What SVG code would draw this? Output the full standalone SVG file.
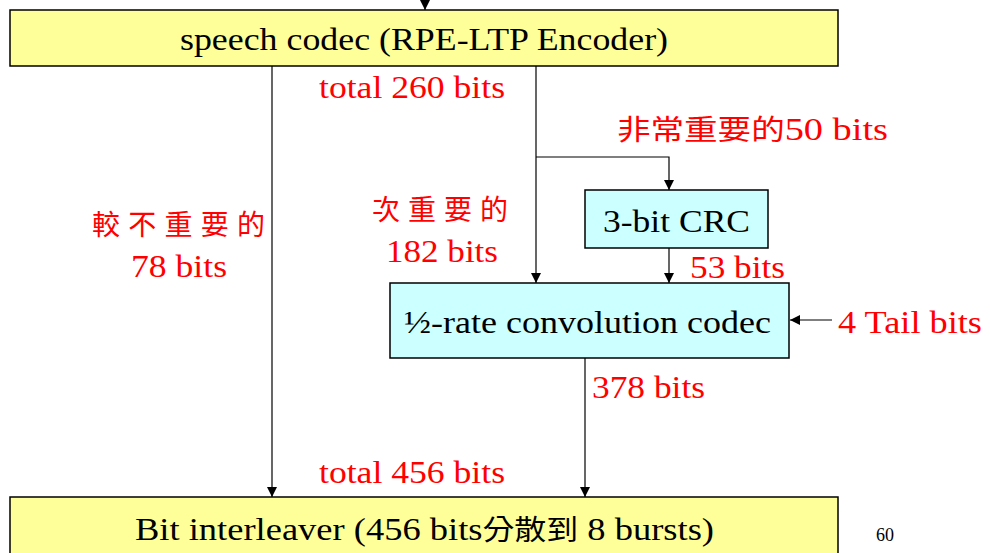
<svg xmlns="http://www.w3.org/2000/svg" width="990" height="553" viewBox="0 0 990 553">
<style>
.box{stroke:#000;stroke-width:1.5}
.y{fill:#FFFF99}
.c{fill:#CCFFFF}
.t{font-family:"Liberation Serif","Times New Roman","DejaVu Serif",serif;fill:#000}
.r{font-family:"Liberation Serif","Times New Roman","DejaVu Serif",serif;fill:#FF0000}
.cjk{font-family:"Noto Sans CJK TC","Noto Sans CJK SC",sans-serif}
.ln{stroke:#000;stroke-width:1.2;fill:none;marker-end:url(#ah)}
</style>
<defs>
<marker id="ah" viewBox="0 0 10 10" refX="10" refY="5" markerWidth="10" markerHeight="10" markerUnits="userSpaceOnUse" orient="auto">
<path d="M0,0 L10,5 L0,10 z" fill="#000"/>
</marker>
</defs>
<g id="connectors">
<path class="ln" d="M425,0 V10"/>
<path class="ln" d="M272,66 V497"/>
<path class="ln" d="M536,66 V283"/>
<path class="ln" d="M536,157 H669 V190"/>
<path class="ln" d="M669,248 V283"/>
<path class="ln" d="M585,358 V497"/>
<path class="ln" d="M832,320 H790"/>
</g>
<g id="speech-codec">
<rect class="box y" x="10" y="10" width="828" height="56"/>
<text class="t" x="180" y="50" font-size="32" textLength="488" lengthAdjust="spacingAndGlyphs">speech codec (RPE-LTP Encoder)</text>
</g>
<g id="crc">
<rect class="box c" x="585" y="190" width="183" height="58"/>
<text class="t" x="603" y="232" font-size="32" textLength="147" lengthAdjust="spacingAndGlyphs">3-bit CRC</text>
</g>
<g id="convolution">
<rect class="box c" x="390" y="283" width="399" height="75"/>
<text class="t" x="404" y="333" font-size="32" textLength="367" lengthAdjust="spacingAndGlyphs">½-rate convolution codec</text>
</g>
<g id="interleaver">
<rect class="box y" x="10" y="497" width="828" height="70"/>
<text class="t" x="135" y="540" font-size="32" textLength="579" lengthAdjust="spacingAndGlyphs">Bit interleaver (456 bits<tspan class="cjk" font-size="28">分散到</tspan> 8 bursts)</text>
</g>
<g id="labels">
<text class="r" x="319" y="98" font-size="32" textLength="186" lengthAdjust="spacingAndGlyphs">total 260 bits</text>
<text class="r" x="617" y="140" font-size="32" textLength="271" lengthAdjust="spacingAndGlyphs"><tspan class="cjk" font-size="28">非常重要的</tspan>50 bits</text>
<text class="r cjk" x="92" y="235" font-size="28" textLength="173" lengthAdjust="spacing">較不重要的</text>
<text class="r" x="131" y="277" font-size="32" textLength="96" lengthAdjust="spacingAndGlyphs">78 bits</text>
<text class="r cjk" x="372" y="220" font-size="28" textLength="136" lengthAdjust="spacing">次重要的</text>
<text class="r" x="386" y="262" font-size="32" textLength="112" lengthAdjust="spacingAndGlyphs">182 bits</text>
<text class="r" x="690" y="278" font-size="32" textLength="95" lengthAdjust="spacingAndGlyphs">53 bits</text>
<text class="r" x="838" y="333" font-size="32" textLength="144" lengthAdjust="spacingAndGlyphs">4 Tail bits</text>
<text class="r" x="592" y="398" font-size="32" textLength="113" lengthAdjust="spacingAndGlyphs">378 bits</text>
<text class="r" x="319" y="483" font-size="32" textLength="186" lengthAdjust="spacingAndGlyphs">total 456 bits</text>
<text class="t" x="885" y="541" font-size="18" text-anchor="middle">60</text>
</g>
</svg>
